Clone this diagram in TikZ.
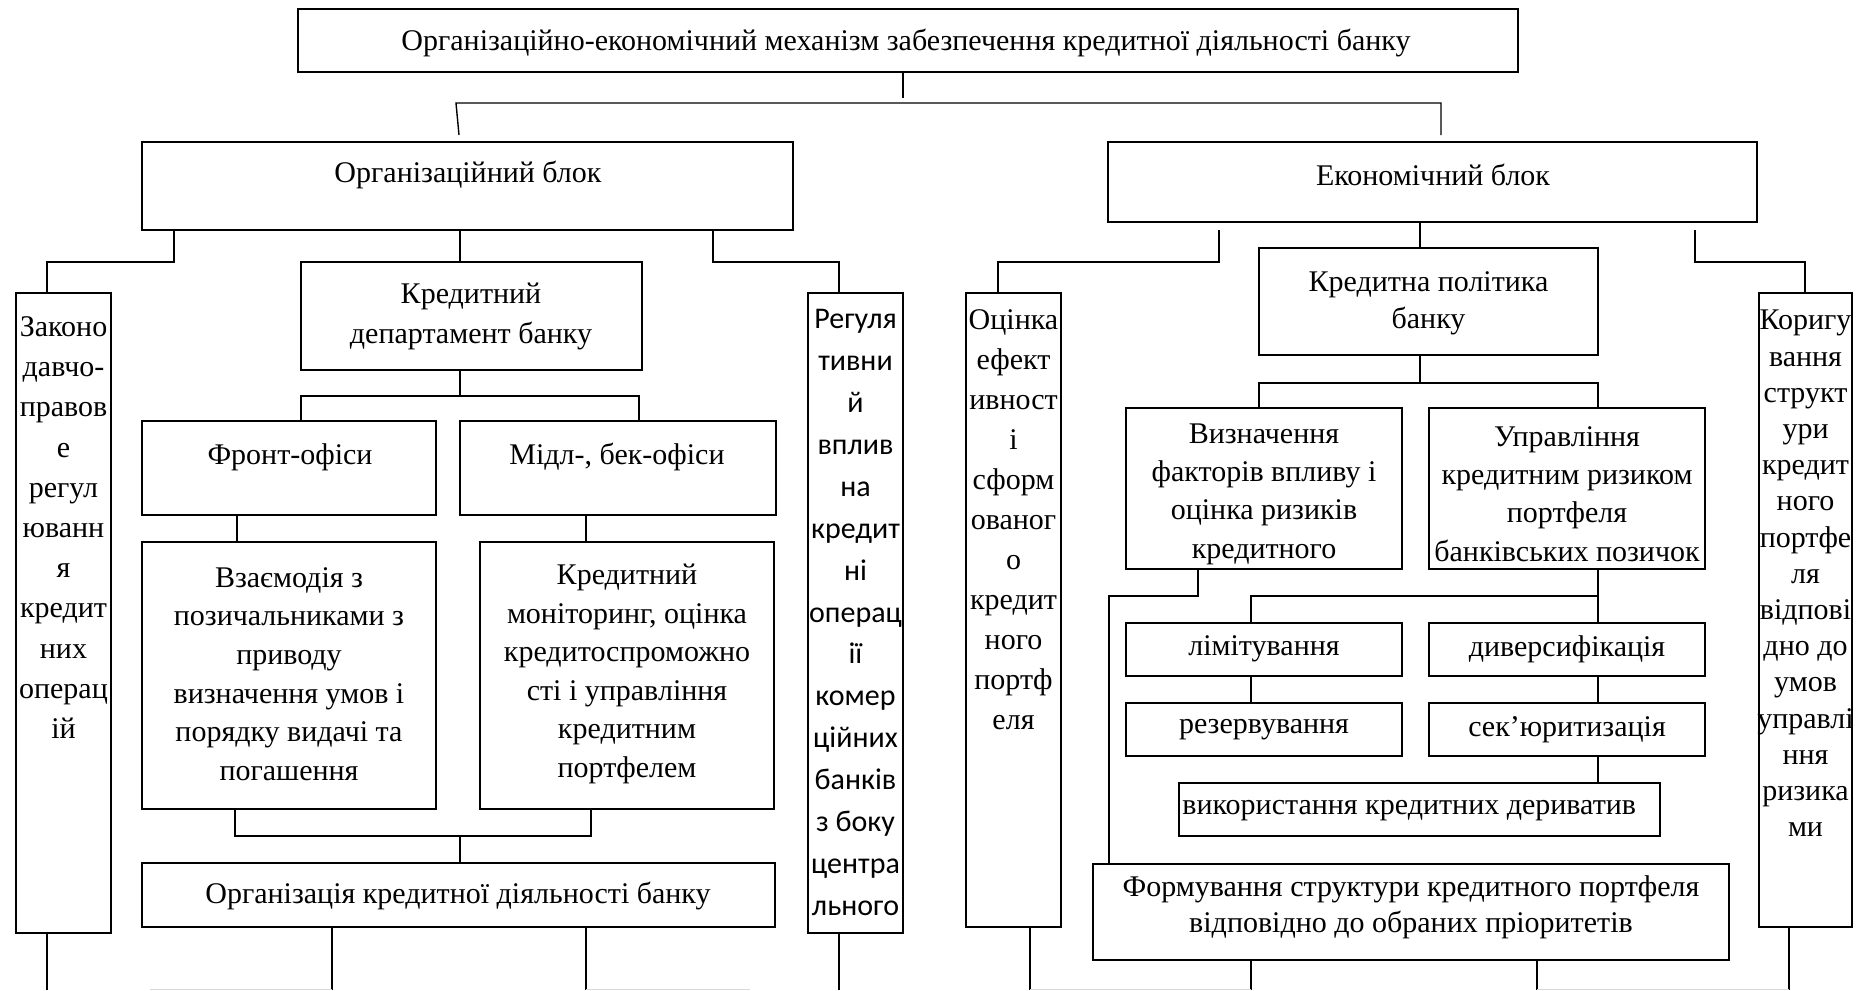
\documentclass[tikz,border=0pt]{standalone}
\usepackage{fontspec}
\setmainfont{Liberation Serif}
\newfontfamily\calfont{Carlito}
\begin{document}
\begin{tikzpicture}[x=0.5pt,y=-0.5pt,
  box/.style={draw, line width=1pt, inner sep=0pt, outer sep=0pt, anchor=north west},
  conn/.style={line width=0.7pt},
  faint/.style={gray!30, line width=0.5pt},
  txt/.style={inner sep=0pt, align=center, font=\fontsize{15}{19.3}\selectfont},
]
\useasboundingbox (0,0) rectangle (1856,990);
\fill[white] (0,0) rectangle (1856,990);
\newcommand\mybox[5]{\node[box, minimum width={(#4-#2)*0.5pt}, minimum height={(#5-#3)*0.5pt}] (#1) at (#2,#3) {};}

% boxes
\mybox{top}{298}{9}{1518}{72}
\mybox{org}{142}{142}{793}{230}
\mybox{econ}{1108}{142}{1757}{222}
\mybox{lz}{16}{293}{111}{933}
\mybox{kdep}{301}{262}{642}{370}
\mybox{reg}{808}{293}{903}{933}
\mybox{front}{142}{421}{436}{515}
\mybox{midl}{460}{421}{776}{515}
\mybox{vzaem}{142}{542}{436}{809}
\mybox{kmon}{480}{542}{774}{809}
\mybox{okred}{142}{863}{775}{927}
\mybox{ocin}{966}{293}{1061}{927}
\mybox{kpol}{1259}{248}{1598}{355}
\mybox{kor}{1759}{293}{1852}{927}
\mybox{vyzn}{1126}{408}{1402}{569}
\mybox{upr}{1429}{408}{1705}{569}
\mybox{limit}{1126}{623}{1402}{676}
\mybox{dyv}{1429}{623}{1705}{676}
\mybox{rez}{1126}{703}{1402}{756}
\mybox{sek}{1429}{703}{1705}{756}
\mybox{vyk}{1179}{783}{1660}{836}
\mybox{form}{1093}{864}{1729}{960}

% texts
\node[txt] (top-t) at (906,43) {Організаційно-економічний механізм забезпечення кредитної діяльності банку};
\node[txt] (org-t) at (468,175) {Організаційний блок};
\node[txt] (econ-t) at (1433,175) {Економічний блок};
\node[txt, font=\fontsize{15}{20}\selectfont] (kdep-t) at (471,316) {Кредитний\\департамент банку};
\node[txt] (front-t) at (290,457) {Фронт-офіси};
\node[txt] (midl-t) at (617,457) {Мідл-, бек-офіси};
\node[txt] (vzaem-t) at (289,674) {Взаємодія з\\позичальниками з\\приводу\\визначення умов і\\порядку видачі та\\погашення};
\node[txt] (kmon-t) at (627,674) {Кредитний\\моніторинг, оцінка\\кредитоспроможно\\сті і управління\\кредитним\\портфелем};
\node[txt] (okred-t) at (458,896) {Організація кредитної діяльності банку};
\node[txt, font=\fontsize{15}{20.1}\selectfont] (lz-t) at (63.5,527.5) {Законо\\давчо-\\правов\\е\\регул\\юванн\\я\\кредит\\них\\операц\\ій};
\node[txt, font=\calfont\fontsize{15}{20.95}\selectfont] (reg-t) at (855.5,612.5) {Регуля\\тивни\\й\\вплив\\на\\кредит\\ні\\операц\\ії\\комер\\ційних\\банків\\з боку\\центра\\льного};
\node[txt, font=\fontsize{15}{20}\selectfont] (ocin-t) at (1013.5,520) {Оцінка\\ефект\\ивност\\і\\сформ\\ованог\\о\\кредит\\ного\\портф\\еля};
\node[txt, font=\fontsize{15}{18.1}\selectfont] (kor-t) at (1805.5,573.5) {Коригу\\вання\\структ\\ури\\кредит\\ного\\портфе\\ля\\відпові\\дно до\\умов\\управлі\\ння\\ризика\\ми};
\node[txt, font=\fontsize{15}{18.5}\selectfont] (kpol-t) at (1428.5,303.5) {Кредитна політика\\банку};
\node[txt, font=\fontsize{15}{19.2}\selectfont] (vyzn-t) at (1264,494) {Визначення\\факторів впливу і\\оцінка ризиків\\кредитного};
\node[txt, font=\fontsize{15}{19.2}\selectfont] (upr-t) at (1567,494) {Управління\\кредитним ризиком\\портфеля\\банківських позичок};
\node[txt] (limit-t) at (1264,649) {лімітування};
\node[txt] (dyv-t) at (1567,649) {диверсифікація};
\node[txt] (rez-t) at (1264,730) {резервування};
\node[txt] (sek-t) at (1567,730) {сек’юритизація};
\node[txt, anchor=west] (vyk-t) at (1182,811) {використання кредитних дериватив};
\node[txt, font=\fontsize{15}{18}\selectfont] (form-t) at (1411,907) {Формування структури кредитного портфеля\\відповідно до обраних пріоритетів};

% helper coordinates
\foreach \x in {47,174,235,237,301,332,460,586,591,639,713,839,903,998,1030,1109,1198,1219,1251,1259,1420,1537,1598,1695,1789,1805}
  \coordinate (a\x) at (\x,0);
\foreach \x in {47,332,586,839,1030,1251,1537,1789}
  \coordinate (b\x) at (\x,990);
\coordinate (tj) at (903,98);
\coordinate (hl) at (456,103);
\coordinate (hr) at (1441,103);
\coordinate (hle) at (459,135);
\coordinate (hre) at (1441,135);
\coordinate (el) at (1219,230);
\coordinate (er) at (1695,230);
\coordinate (oj) at (460,836);

% connectors
\draw[conn] (top.south -| a903) -- (tj);
\draw[conn] (hle) -- (hl) -- (hr) -- (hre);
\draw[conn] (org.south -| a174) -- (174,262) -- (47,262) -- (lz.north -| a47);
\draw[conn] (org.south -| a460) -- (kdep.north -| a460);
\draw[conn] (org.south -| a713) -- (713,262) -- (839,262) -- (reg.north -| a839);
\draw[conn] (kdep.south -| a460) -- (460,396);
\draw[conn] (front.north -| a301) -- (301,396) -- (639,396) -- (midl.north -| a639);
\draw[conn] (front.south -| a237) -- (vzaem.north -| a237);
\draw[conn] (midl.south -| a586) -- (kmon.north -| a586);
\draw[conn] (vzaem.south -| a235) -- (235,836) -- (591,836) -- (kmon.south -| a591);
\draw[conn] (oj) -- (okred.north -| a460);
\draw[conn] (lz.south -| a47) -- (b47);
\draw[conn] (okred.south -| a332) -- (b332);
\draw[conn] (okred.south -| a586) -- (b586);
\draw[conn] (reg.south -| a839) -- (b839);

\draw[conn] (el) -- (1219,262) -- (998,262) -- (ocin.north -| a998);
\draw[conn] (econ.south -| a1420) -- (kpol.north -| a1420);
\draw[conn] (er) -- (1695,262) -- (1805,262) -- (kor.north -| a1805);
\draw[conn] (kpol.south -| a1420) -- (1420,383);
\draw[conn] (vyzn.north -| a1259) -- (1259,383) -- (1598,383) -- (upr.north -| a1598);
\draw[conn] (vyzn.south -| a1198) -- (1198,596) -- (1109,596) -- (form.north -| a1109);
\draw[conn] (upr.south -| a1598) -- (dyv.north -| a1598);
\draw[conn] (1598,596) -- (1251,596) -- (limit.north -| a1251);
\draw[conn] (limit.south -| a1251) -- (rez.north -| a1251);
\draw[conn] (dyv.south -| a1598) -- (sek.north -| a1598);
\draw[conn] (sek.south -| a1598) -- (vyk.north -| a1598);
\draw[conn] (ocin.south -| a1030) -- (b1030);
\draw[conn] (form.south -| a1251) -- (b1251);
\draw[conn] (form.south -| a1537) -- (b1537);
\draw[conn] (kor.south -| a1789) -- (b1789);

% faint remnants at the lower edge
\draw[faint] (150,989) -- (332,989);
\draw[faint] (586,989) -- (750,989);
\draw[faint] (1030,989) -- (1251,989);
\draw[faint] (1537,989) -- (1789,989);
\end{tikzpicture}
\end{document}
